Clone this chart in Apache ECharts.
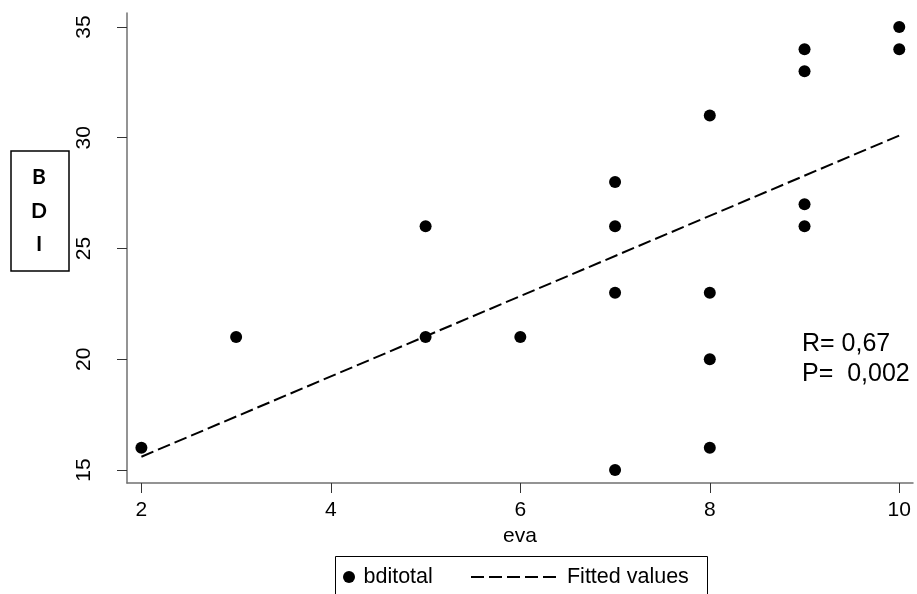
<!DOCTYPE html>
<html>
<head>
<meta charset="utf-8">
<script src="https://cdn.jsdelivr.net/npm/echarts@6/dist/echarts.min.js"></script>
<style>
html,body{margin:0;padding:0;background:#fff;}
#chart{width:917px;height:594px;}
</style>
</head>
<body>
<div id="chart"></div>
<script>
// eva (x) and bditotal (y) observations
const evaValues = [2, 3, 5, 5, 6, 7, 7, 7, 7, 8, 8, 8, 8, 9, 9, 9, 9, 10, 10];
const bdiValues = [16, 21, 26, 21, 21, 28, 26, 23, 15, 31, 23, 20, 16, 34, 33, 27, 26, 35, 34];
// fitted line endpoints
const fitX = [2, 10];
const fitY = [15.6, 30.1];
// tick labels
const xTicks = [2, 4, 6, 8, 10];
const yTicks = [15, 20, 25, 30, 35];
// annotations
const seriesNames = ['bditotal', 'Fitted values'];
const xTitle = 'eva';
const yTitle = 'B\nD\nI';
const statR = 'R= 0,67';
const statP = 'P=  0,002';

const scatterData = evaValues.map((x, i) => [x, bdiValues[i]]);
const fitData = fitX.map((x, i) => [x, fitY[i]]);

const FONT = 'Liberation Sans, Arial, sans-serif';
const chart = echarts.init(document.getElementById('chart'), null, {renderer: 'canvas'});
chart.setOption({
  animation: false,
  backgroundColor: '#fff',
  grid: {left: 127, top: 13, width: 786, height: 470, containLabel: false},
  xAxis: {
    type: 'value',
    min: 1.848, max: 10.145,
    name: xTitle, nameLocation: 'middle', nameGap: 36,
    nameTextStyle: {fontFamily: FONT, fontSize: 21, color: '#000'},
    axisLine: {show: true, onZero: false, lineStyle: {color: '#707070', width: 1.5}},
    axisTick: {show: true, inside: false, length: 10, customValues: xTicks, lineStyle: {color: '#333', width: 1}},
    axisLabel: {show: true, customValues: xTicks, margin: 17, fontFamily: FONT, fontSize: 21, color: '#000'},
    splitLine: {show: false}
  },
  yAxis: {
    type: 'value',
    min: 14.413, max: 35.632,
    axisLine: {show: true, onZero: false, lineStyle: {color: '#707070', width: 1.5}},
    axisTick: {show: true, inside: false, length: 10, customValues: yTicks, lineStyle: {color: '#333', width: 1}},
    axisLabel: {show: true, customValues: yTicks, rotate: 90, margin: 32, fontFamily: FONT, fontSize: 21, color: '#000'},
    splitLine: {show: false}
  },
  legend: [
    {
      data: [{name: seriesNames[0], icon: 'circle'}],
      left: 343, top: 566, padding: 0,
      itemWidth: 19, itemHeight: 12,
      itemStyle: {opacity: 1},
      textStyle: {fontFamily: FONT, fontSize: 21.5, color: '#000'}
    },
    {
      data: [{name: seriesNames[1]}],
      left: 470, top: 566, padding: 0,
      itemWidth: 85, itemHeight: 12,
      itemStyle: {opacity: 0},
      lineStyle: {color: '#000', width: 2, type: [13, 5], opacity: 1},
      formatter: ' {name}',
      textStyle: {fontFamily: FONT, fontSize: 21.5, color: '#000'}
    }
  ],
  graphic: [
    {type: 'rect', shape: {x: 335.5, y: 556.5, width: 372, height: 60}, style: {fill: 'none', stroke: '#000', lineWidth: 1}},
    {type: 'rect', shape: {x: 11, y: 151, width: 58, height: 120}, style: {fill: 'none', stroke: '#000', lineWidth: 1.5}},
    {type: 'text', x: 39, y: 211, style: {text: yTitle, fontFamily: 'Lato, Open Sans, sans-serif', fontWeight: 'bold', fontSize: 21, lineHeight: 33.5, align: 'center', verticalAlign: 'middle', fill: '#000'}},
    {type: 'text', x: 802, y: 344, style: {text: statR, fontFamily: FONT, fontSize: 25, align: 'left', verticalAlign: 'middle', fill: '#000'}},
    {type: 'text', x: 802, y: 374, style: {text: statP, fontFamily: FONT, fontSize: 25, align: 'left', verticalAlign: 'middle', fill: '#000'}}
  ],
  series: [
    {
      name: seriesNames[0], type: 'scatter', data: scatterData,
      symbol: 'circle', symbolSize: 12,
      itemStyle: {color: '#000', opacity: 1}
    },
    {
      name: seriesNames[1], type: 'line', data: fitData,
      symbol: 'none', showSymbol: false,
      lineStyle: {color: '#000', width: 2, type: [13, 5]},
      itemStyle: {color: '#000'}
    }
  ]
});
</script>
</body>
</html>
